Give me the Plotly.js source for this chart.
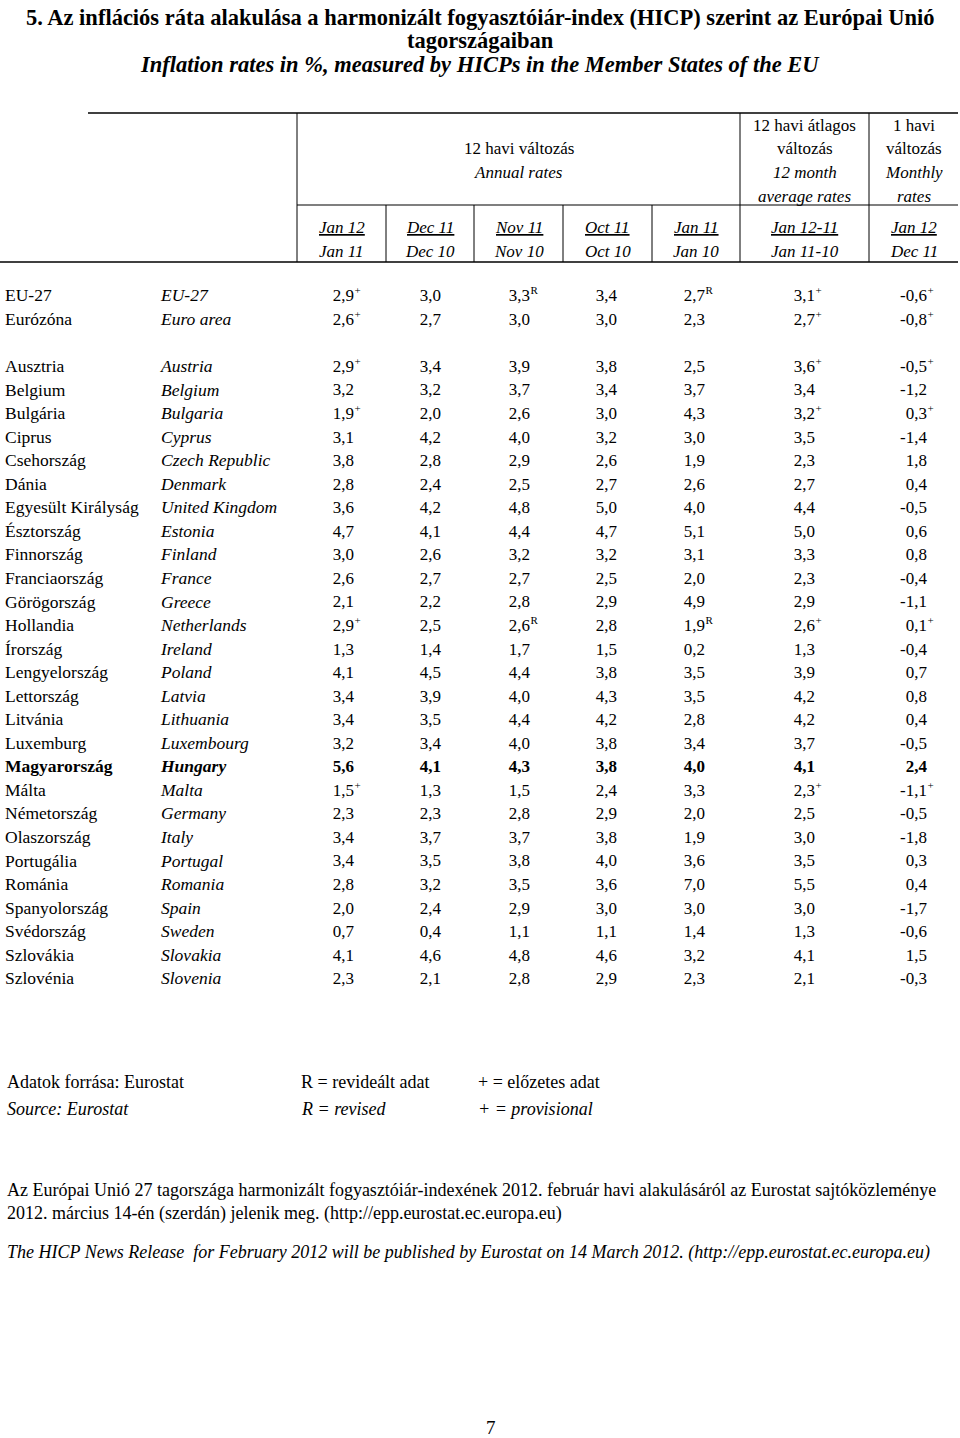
<!DOCTYPE html>
<html>
<head>
<meta charset="utf-8">
<script src="https://cdn.plot.ly/plotly-3.0.1.min.js"></script>
<style>
  html, body { margin: 0; padding: 0; background: #fff; }
  #chart { width: 960px; height: 1438px; }
</style>
</head>
<body>
<div id="chart"></div>
<script>
// ---------------- DATA ----------------
const countriesHu = ['EU-27','Eurózóna','Ausztria','Belgium','Bulgária','Ciprus','Csehország','Dánia','Egyesült Királyság','Észtország','Finnország','Franciaország','Görögország','Hollandia','Írország','Lengyelország','Lettország','Litvánia','Luxemburg','Magyarország','Málta','Németország','Olaszország','Portugália','Románia','Spanyolország','Svédország','Szlovákia','Szlovénia'];
const countriesEn = ['EU-27','Euro area','Austria','Belgium','Bulgaria','Cyprus','Czech Republic','Denmark','United Kingdom','Estonia','Finland','France','Greece','Netherlands','Ireland','Poland','Latvia','Lithuania','Luxembourg','Hungary','Malta','Germany','Italy','Portugal','Romania','Spain','Sweden','Slovakia','Slovenia'];
const highlightCountry = 'Magyarország';

// Annual rates
const jan12Jan11 = [2.9,2.6,2.9,3.2,1.9,3.1,3.8,2.8,3.6,4.7,3.0,2.6,2.1,2.9,1.3,4.1,3.4,3.4,3.2,5.6,1.5,2.3,3.4,3.4,2.8,2.0,0.7,4.1,2.3];
const dec11Dec10 = [3.0,2.7,3.4,3.2,2.0,4.2,2.8,2.4,4.2,4.1,2.6,2.7,2.2,2.5,1.4,4.5,3.9,3.5,3.4,4.1,1.3,2.3,3.7,3.5,3.2,2.4,0.4,4.6,2.1];
const nov11Nov10 = [3.3,3.0,3.9,3.7,2.6,4.0,2.9,2.5,4.8,4.4,3.2,2.7,2.8,2.6,1.7,4.4,4.0,4.4,4.0,4.3,1.5,2.8,3.7,3.8,3.5,2.9,1.1,4.8,2.8];
const oct11Oct10 = [3.4,3.0,3.8,3.4,3.0,3.2,2.6,2.7,5.0,4.7,3.2,2.5,2.9,2.8,1.5,3.8,4.3,4.2,3.8,3.8,2.4,2.9,3.8,4.0,3.6,3.0,1.1,4.6,2.9];
const jan11Jan10 = [2.7,2.3,2.5,3.7,4.3,3.0,1.9,2.6,4.0,5.1,3.1,2.0,4.9,1.9,0.2,3.5,3.5,2.8,3.4,4.0,3.3,2.0,1.9,3.6,7.0,3.0,1.4,3.2,2.3];
// 12 month average rates
const avg12 = [3.1,2.7,3.6,3.4,3.2,3.5,2.3,2.7,4.4,5.0,3.3,2.3,2.9,2.6,1.3,3.9,4.2,4.2,3.7,4.1,2.3,2.5,3.0,3.5,5.5,3.0,1.3,4.1,2.1];
// Monthly rates
const monthly = [-0.6,-0.8,-0.5,-1.2,0.3,-1.4,1.8,0.4,-0.5,0.6,0.8,-0.4,-1.1,0.1,-0.4,0.7,0.8,0.4,-0.5,2.4,-1.1,-0.5,-1.8,0.3,0.4,-1.7,-0.6,1.5,-0.3];

// Flags: '+' = provisional, 'R' = revised
const flagsJan12Jan11 = ['+','+','+','','+','','','','','','','','','+','','','','','','','+','','','','','','','',''];
const flagsDec11Dec10 = ['','','','','','','','','','','','','','','','','','','','','','','','','','','','',''];
const flagsNov11Nov10 = ['R','','','','','','','','','','','','','R','','','','','','','','','','','','','','',''];
const flagsOct11Oct10 = ['','','','','','','','','','','','','','','','','','','','','','','','','','','','',''];
const flagsJan11Jan10 = ['R','','','','','','','','','','','','','R','','','','','','','','','','','','','','',''];
const flagsAvg12      = ['+','+','+','','+','','','','','','','','','+','','','','','','','+','','','','','','','',''];
const flagsMonthly    = ['+','+','+','','+','','','','','','','','','+','','','','','','','+','','','','','','','',''];

const dateTop    = ['Jan 12','Dec 11','Nov 11','Oct 11','Jan 11','Jan 12-11','Jan 12'];
const dateBottom = ['Jan 11','Dec 10','Nov 10','Oct 10','Jan 10','Jan 11-10','Dec 11'];

// ---------------- LAYOUT CONSTANTS ----------------
const W = 960, H = 1438;
const ROW0 = 297, ROWH = 23.55;
const FONT = 'Liberation Serif, Times New Roman, serif';
const FS_NAME = 17.5, FS_NUM = 17, FS_FLAG = 11, FS_HEAD = 17, FS_FOOT = 18;
const columns = [
  {vals: jan12Jan11, flags: flagsJan12Jan11, right: 354},
  {vals: dec11Dec10, flags: flagsDec11Dec10, right: 441},
  {vals: nov11Nov10, flags: flagsNov11Nov10, right: 530},
  {vals: oct11Oct10, flags: flagsOct11Oct10, right: 617},
  {vals: jan11Jan10, flags: flagsJan11Jan10, right: 705},
  {vals: avg12,      flags: flagsAvg12,      right: 815},
  {vals: monthly,    flags: flagsMonthly,    right: 927}
];
const dateCenters = [341.5, 430, 518.5, 607.5, 696, 804.5, 913.5];

const rowIndex = countriesHu.map((_, i) => i < 2 ? i : i + 1);
const isBold = countriesHu.map(c => c === highlightCountry);
const fmt = v => v.toFixed(1).replace('.', ',');
const yp = px => 1 - px / H;

const traces = [];
function textTrace(x, y, text, pos, size) {
  return {type: 'scatter', mode: 'text', hoverinfo: 'skip', cliponaxis: false, showlegend: false,
    x: x, y: y, text: text, textposition: pos,
    textfont: {family: FONT, size: size, color: '#000'}};
}

traces.push(textTrace(countriesHu.map(() => 5), rowIndex,
  countriesHu.map((c, i) => isBold[i] ? '<b>' + c + '</b>' : c), 'middle right', FS_NAME));
traces.push(textTrace(countriesEn.map(() => 161), rowIndex,
  countriesEn.map((c, i) => isBold[i] ? '<b><i>' + c + '</i></b>' : '<i>' + c + '</i>'), 'middle right', FS_NAME));
columns.forEach(col => {
  traces.push(textTrace(col.vals.map(() => col.right), rowIndex,
    col.vals.map((v, i) => isBold[i] ? '<b>' + fmt(v) + '</b>' : fmt(v)), 'middle left', FS_NUM));
  const idx = col.flags.map((f, i) => f ? i : -1).filter(i => i >= 0);
  if (idx.length) {
    traces.push(textTrace(idx.map(() => col.right + 0.5), idx.map(i => rowIndex[i]),
      idx.map(i => col.flags[i]), 'top right', FS_FLAG));
  }
});

// ---------------- SHAPES ----------------
const shapes = [];
function hline(x0, x1, ypx, w) {
  shapes.push({type: 'line', xref: 'x', yref: 'paper', x0: x0, x1: x1, y0: yp(ypx), y1: yp(ypx), line: {color: '#000', width: w}});
}
function vline(xpx, y0, y1) {
  shapes.push({type: 'line', xref: 'x', yref: 'paper', x0: xpx, x1: xpx, y0: yp(y0), y1: yp(y1), line: {color: '#000', width: 1}});
}
hline(88, 958, 113, 1.5);
hline(297, 958, 205, 1.2);
hline(0, 958, 262, 1.5);
[297, 740, 869].forEach(x => vline(x, 113, 262));
[386, 474, 563, 652].forEach(x => vline(x, 205, 262));

// ---------------- ANNOTATIONS ----------------
const annotations = [];
function ann(text, x, ypx, opts) {
  opts = opts || {};
  annotations.push({
    text: text, x: x, y: yp(ypx), xref: 'x', yref: 'paper', showarrow: false,
    xanchor: opts.xanchor || 'center', yanchor: 'middle',
    font: {family: FONT, size: opts.size || FS_HEAD, color: '#000'}
  });
}
ann('<b>5. Az inflációs ráta alakulása a harmonizált fogyasztóiár-index (HICP) szerint az Európai Unió</b>', 480, 17, {size: 22.5});
ann('<b>tagországaiban</b>', 480, 40, {size: 22.5});
ann('<b><i>Inflation rates in %, measured by HICPs in the Member States of the EU</i></b>', 480, 64, {size: 22.5});

ann('12 havi változás', 518.5, 148);
ann('<i>Annual rates</i>', 518.5, 172);
ann('12 havi átlagos', 804.5, 125);
ann('változás', 804.5, 148);
ann('<i>12 month</i>', 804.5, 172);
ann('<i>average rates</i>', 804.5, 196);
ann('1 havi', 913.5, 125);
ann('változás', 913.5, 148);
ann('<i>Monthly</i>', 913.5, 172);
ann('<i>rates</i>', 913.5, 196);
dateCenters.forEach((cx, i) => {
  ann('<i><u>' + dateTop[i] + '</u></i>', cx, 228);
  ann('<i>' + dateBottom[i] + '</i>', cx, 252);
});

ann('Adatok forrása: Eurostat', 5, 1082, {xanchor: 'left', size: FS_FOOT});
ann('R = revideált adat', 299, 1082, {xanchor: 'left', size: FS_FOOT});
ann('+ = előzetes adat', 476, 1082, {xanchor: 'left', size: FS_FOOT});
ann('<i>Source: Eurostat</i>', 5, 1109, {xanchor: 'left', size: FS_FOOT});
ann('<i>R = revised</i>', 299, 1109, {xanchor: 'left', size: FS_FOOT});
ann('<i>+ = provisional</i>', 476, 1109, {xanchor: 'left', size: FS_FOOT});
ann('Az Európai Unió 27 tagországa harmonizált fogyasztóiár-indexének 2012. február havi alakulásáról az Eurostat sajtóközleménye', 5, 1190, {xanchor: 'left', size: FS_FOOT});
ann('2012. március 14-én (szerdán) jelenik meg. (http://epp.eurostat.ec.europa.eu)', 5, 1213, {xanchor: 'left', size: FS_FOOT});
ann('<i>The HICP News Release  for February 2012 will be published by Eurostat on 14 March 2012. (http://epp.eurostat.ec.europa.eu)</i>', 5, 1252, {xanchor: 'left', size: FS_FOOT});
ann('7', 491, 1427, {size: 19});

const layout = {
  width: W, height: H,
  margin: {l: 0, r: 0, t: 0, b: 0, pad: 0},
  paper_bgcolor: '#fff', plot_bgcolor: '#fff',
  xaxis: {range: [0, W], visible: false, fixedrange: true},
  yaxis: {range: [(H - ROW0) / ROWH, (0 - ROW0) / ROWH], visible: false, fixedrange: true},
  shapes: shapes, annotations: annotations,
  showlegend: false
};

Plotly.newPlot('chart', traces, layout, {staticPlot: true, displayModeBar: false});
</script>
</body>
</html>
